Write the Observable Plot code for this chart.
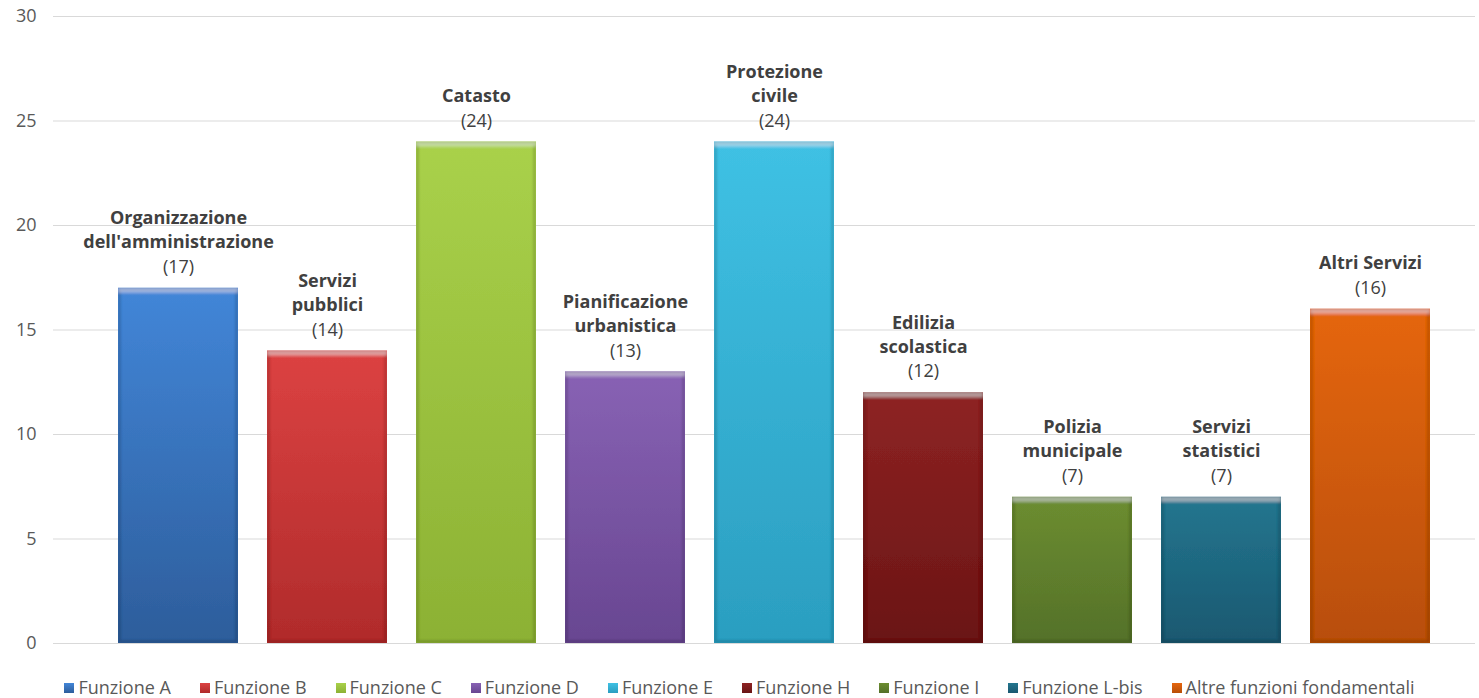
<!DOCTYPE html>
<html>
<head>
<meta charset="utf-8">
<script src="https://cdn.jsdelivr.net/npm/d3@7"></script>
<script src="https://cdn.jsdelivr.net/npm/@observablehq/plot@0.6"></script>
<style>
  html, body { margin: 0; padding: 0; background: #fff; }
  body { width: 1479px; height: 698px; position: relative; overflow: hidden; font-family: "Open Sans", Lato, "DejaVu Sans", sans-serif; }
  #chart { position: absolute; left: 0; top: 0; }
  #legend { position: absolute; left: 0; top: 677px; width: 1479px; height: 21px; display: flex; justify-content: center; align-items: center; gap: 29px; font-size: 18px; color: #595959; line-height: 21px; }
  .item { display: flex; align-items: center; white-space: nowrap; }
  .sw { width: 10px; height: 10px; margin-right: 4px; box-sizing: border-box; }
</style>
</head>
<body>
<div id="chart"></div>
<div id="legend"></div>
<script>
const categories = ["Funzione A", "Funzione B", "Funzione C", "Funzione D", "Funzione E", "Funzione H", "Funzione I", "Funzione L-bis", "Altre funzioni fondamentali"];
const labels = ["Organizzazione\ndell'amministrazione", "Servizi\npubblici", "Catasto", "Pianificazione\nurbanistica", "Protezione\ncivile", "Edilizia\nscolastica", "Polizia\nmunicipale", "Servizi\nstatistici", "Altri Servizi"];
const values = [17, 14, 24, 13, 24, 12, 7, 7, 16];
const colorsTop = ["#4286d8", "#dc4242", "#a9d14a", "#8862b4", "#3fc1e4", "#8e2323", "#6c8d30", "#23768f", "#e5660f"];
const colorsBottom = ["#2d5d9b", "#b02b2b", "#8cb134", "#684691", "#2b9ec0", "#6a1515", "#54712a", "#1a5870", "#b84e07"];
const yTicks = [0, 5, 10, 15, 20, 25, 30];

const data = categories.map((c, i) => ({cat: c, label: labels[i], value: values[i], i}));

const chart = Plot.plot({
  width: 1479,
  height: 670,
  marginTop: 16,
  marginBottom: 27,
  marginLeft: 53,
  marginRight: 4,
  style: {fontFamily: "'Open Sans', Lato, 'DejaVu Sans', sans-serif", fontSize: "18px", color: "#595959", background: "transparent"},
  x: {domain: categories, range: [99.6, 1448.4], paddingInner: 0.192, paddingOuter: 0.096, axis: null},
  y: {domain: [0, 30], ticks: yTicks, tickSize: 0, tickPadding: 17, label: null},
  color: {type: "identity"},
  marks: [
    Plot.gridY(yTicks, {stroke: "#d9d9d9", strokeOpacity: 1, strokeWidth: 1}),
    Plot.barY(data, {x: "cat", y: "value", fill: d => `url(#grad${d.i})`}),
    Plot.text(data, {x: "cat", y: "value", text: d => `(${d.value})`, dy: -21, lineAnchor: "middle", fill: "#404040", fontSize: 18}),
    Plot.text(data, {x: "cat", y: "value", text: "label", dy: -40, lineAnchor: "bottom", lineHeight: 1.34, fill: "#404040", fontSize: 18, fontWeight: "bold"})
  ]
});

const svg = d3.select(chart);
const defs = svg.insert("defs", ":first-child");
data.forEach(d => {
  const g = defs.append("linearGradient").attr("id", `grad${d.i}`).attr("x1", 0).attr("y1", 0).attr("x2", 0).attr("y2", 1);
  g.append("stop").attr("offset", "0%").attr("stop-color", colorsTop[d.i]);
  g.append("stop").attr("offset", "100%").attr("stop-color", colorsBottom[d.i]);
});
// bevel: light top band, darker rim
const f = defs.append("filter").attr("id", "bevel").attr("x", "-5%").attr("y", "-5%").attr("width", "110%").attr("height", "110%");
f.append("feOffset").attr("in", "SourceAlpha").attr("dy", 5).attr("result", "off");
f.append("feComposite").attr("in", "SourceAlpha").attr("in2", "off").attr("operator", "out").attr("result", "topband");
f.append("feFlood").attr("flood-color", "#ffffff").attr("flood-opacity", 0.32).attr("result", "white");
f.append("feComposite").attr("in", "white").attr("in2", "topband").attr("operator", "in").attr("result", "hl0");
f.append("feGaussianBlur").attr("in", "hl0").attr("stdDeviation", 1.5).attr("result", "hl1");
f.append("feComposite").attr("in", "hl1").attr("in2", "SourceAlpha").attr("operator", "in").attr("result", "hl");
f.append("feMorphology").attr("in", "SourceAlpha").attr("operator", "erode").attr("radius", 3).attr("result", "inner");
f.append("feComposite").attr("in", "SourceAlpha").attr("in2", "inner").attr("operator", "out").attr("result", "rim");
f.append("feFlood").attr("flood-color", "#000000").attr("flood-opacity", 0.3).attr("result", "black");
f.append("feComposite").attr("in", "black").attr("in2", "rim").attr("operator", "in").attr("result", "dk0");
f.append("feGaussianBlur").attr("in", "dk0").attr("stdDeviation", 1.2).attr("result", "dk1");
f.append("feComposite").attr("in", "dk1").attr("in2", "SourceAlpha").attr("operator", "in").attr("result", "dk");
const m = f.append("feMerge");
m.append("feMergeNode").attr("in", "SourceGraphic");
m.append("feMergeNode").attr("in", "dk");
m.append("feMergeNode").attr("in", "hl");
svg.selectAll("g[aria-label='bar'] rect").attr("filter", "url(#bevel)");

document.getElementById("chart").appendChild(chart);

const legend = document.getElementById("legend");
categories.forEach((c, i) => {
  const item = document.createElement("div");
  item.className = "item";
  const sw = document.createElement("span");
  sw.className = "sw";
  sw.style.background = `linear-gradient(${colorsTop[i]}, ${colorsBottom[i]})`;
  const t = document.createElement("span");
  t.textContent = c;
  item.appendChild(sw);
  item.appendChild(t);
  legend.appendChild(item);
});
</script>
</body>
</html>
